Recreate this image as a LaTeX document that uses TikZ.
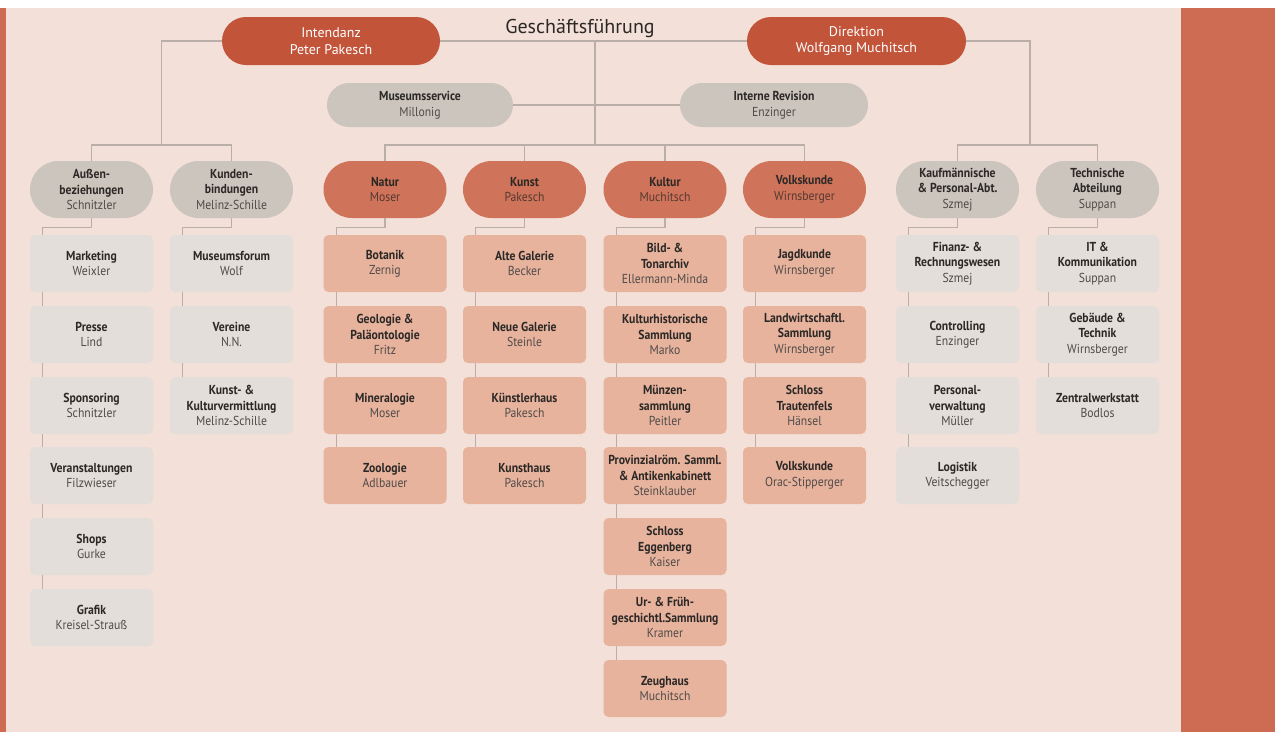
\documentclass[tikz,border=0pt]{standalone}
\usepackage{fontspec}
\setmainfont{PT Sans}[FakeStretch=0.9]
\newfontfamily\titlefont{PT Sans}
\usetikzlibrary{calc}
\definecolor{bg}{HTML}{F3E0D8}
\definecolor{edgec}{HTML}{CD6C53}
\definecolor{topred}{HTML}{C2543A}
\definecolor{divpill}{HTML}{CF745A}
\definecolor{divbox}{HTML}{E7B39D}
\definecolor{greypill}{HTML}{CCC5BD}
\definecolor{greybox}{HTML}{E3DEDA}
\definecolor{conn}{HTML}{B9AEA8}
\definecolor{ttl}{HTML}{2B2826}
\definecolor{namec}{HTML}{4F4A48}
\definecolor{namedv}{HTML}{553830}
\newcommand{\ttxt}[1]{{\bfseries #1}}
\newcommand{\ntxt}[1]{{\color{namec}#1}}
\newcommand{\dtxt}[1]{{\color{namedv}#1}}
\tikzset{
 base/.style={inner sep=0pt, align=center, font=\fontsize{13}{15.5}\selectfont, text=ttl},
 toppill/.style={base, fill=topred, minimum width=218pt, minimum height=48pt, rounded corners=24pt, text=white, font=\titlefont\fontsize{14}{16.5}\selectfont},
 pill/.style={base, minimum width=123pt, minimum height=57pt, rounded corners=28.5pt},
 gpill/.style={pill, fill=greypill},
 dpill/.style={pill, fill=divpill},
 box/.style={base, minimum width=123pt, minimum height=57pt, rounded corners=5pt},
 gbox/.style={box, fill=greybox},
 dbox/.style={box, fill=divbox},
 svc/.style={base, fill=greypill, minimum height=44pt, rounded corners=22pt},
 link/.style={draw=conn, line width=1.3pt},
}
\begin{document}
\begin{tikzpicture}[x=1pt,y=-1pt]
\useasboundingbox (0,0) rectangle (1275,732);
\fill[white] (0,0) rectangle (1275,732);
\fill[bg] (0,8) rectangle (1181,732);
\fill[edgec] (0,8) rectangle (6,732);
\fill[edgec] (1181,8) rectangle (1275,732);

% top
\node[toppill] (intend) at (331,41) {Intendanz\\Peter Pakesch};
\node[toppill, minimum width=219pt] (direk) at (856.5,41) {Direktion\\Wolfgang Muchitsch};
\node[text=ttl, font=\titlefont\fontsize{20}{22}\selectfont, inner sep=0pt] (gft) at (580,28) {Geschäftsführung};
\node[svc, minimum width=186pt] (msvc) at (420,105) {\ttxt{Museumsservice}\\\ntxt{Millonig}};
\node[svc, minimum width=188pt] (irev) at (774,105) {\ttxt{Interne Revision}\\\ntxt{Enzinger}};

\coordinate (gtop) at (595,41);
\coordinate (mj) at (595,145);
\coordinate (lj) at (161.5,145);
\coordinate (rj) at (1030,145);

% group pills
\def\py{189.5}
\node[gpill] (aP) at (91.5,\py) {\ttxt{Außen-}\\\ttxt{beziehungen}\\\ntxt{Schnitzler}};
\node[gpill] (kP) at (231.5,\py) {\ttxt{Kunden-}\\\ttxt{bindungen}\\\ntxt{Melinz-Schille}};
\node[dpill] (nP) at (385,\py) {\ttxt{Natur}\\\dtxt{Moser}};
\node[dpill] (sP) at (524.5,\py) {\ttxt{Kunst}\\\dtxt{Pakesch}};
\node[dpill] (cP) at (665,\py) {\ttxt{Kultur}\\\dtxt{Muchitsch}};
\node[dpill] (vP) at (804.5,\py) {\ttxt{Volkskunde}\\\dtxt{Wirnsberger}};
\node[gpill] (fP) at (957.5,\py) {\ttxt{Kaufmännische}\\\ttxt{\& Personal-Abt.}\\\ntxt{Szmej}};
\node[gpill] (tP) at (1097.5,\py) {\ttxt{Technische}\\\ttxt{Abteilung}\\\ntxt{Suppan}};

% rows
\def\ra{263.5}\def\rb{334.5}\def\rc{405.5}\def\rd{475.5}\def\re{546.5}\def\rf{617.5}\def\rg{688.5}

\node[gbox] (a1) at (91.5,\ra) {\ttxt{Marketing}\\\ntxt{Weixler}};
\node[gbox] (a2) at (91.5,\rb) {\ttxt{Presse}\\\ntxt{Lind}};
\node[gbox] (a3) at (91.5,\rc) {\ttxt{Sponsoring}\\\ntxt{Schnitzler}};
\node[gbox] (a4) at (91.5,\rd) {\ttxt{Veranstaltungen}\\\ntxt{Filzwieser}};
\node[gbox] (a5) at (91.5,\re) {\ttxt{Shops}\\\ntxt{Gurke}};
\node[gbox] (a6) at (91.5,\rf) {\ttxt{Grafik}\\\ntxt{Kreisel-Strauß}};

\node[gbox] (k1) at (231.5,\ra) {\ttxt{Museumsforum}\\\ntxt{Wolf}};
\node[gbox] (k2) at (231.5,\rb) {\ttxt{Vereine}\\\ntxt{N.N.}};
\node[gbox] (k3) at (231.5,\rc) {\ttxt{Kunst- \&}\\\ttxt{Kulturvermittlung}\\\ntxt{Melinz-Schille}};

\node[dbox] (n1) at (385,\ra) {\ttxt{Botanik}\\\ntxt{Zernig}};
\node[dbox] (n2) at (385,\rb) {\ttxt{Geologie \&}\\\ttxt{Paläontologie}\\\ntxt{Fritz}};
\node[dbox] (n3) at (385,\rc) {\ttxt{Mineralogie}\\\ntxt{Moser}};
\node[dbox] (n4) at (385,\rd) {\ttxt{Zoologie}\\\ntxt{Adlbauer}};

\node[dbox] (s1) at (524.5,\ra) {\ttxt{Alte Galerie}\\\ntxt{Becker}};
\node[dbox] (s2) at (524.5,\rb) {\ttxt{Neue Galerie}\\\ntxt{Steinle}};
\node[dbox] (s3) at (524.5,\rc) {\ttxt{Künstlerhaus}\\\ntxt{Pakesch}};
\node[dbox] (s4) at (524.5,\rd) {\ttxt{Kunsthaus}\\\ntxt{Pakesch}};

\node[dbox] (c1) at (665,\ra) {\ttxt{Bild- \&}\\\ttxt{Tonarchiv}\\\ntxt{Ellermann-Minda}};
\node[dbox] (c2) at (665,\rb) {\ttxt{Kulturhistorische}\\\ttxt{Sammlung}\\\ntxt{Marko}};
\node[dbox] (c3) at (665,\rc) {\ttxt{Münzen-}\\\ttxt{sammlung}\\\ntxt{Peitler}};
\node[dbox] (c4) at (665,\rd) {\ttxt{Provinzialröm. Samml.}\\\ttxt{\& Antikenkabinett}\\\ntxt{Steinklauber}};
\node[dbox] (c5) at (665,\re) {\ttxt{Schloss}\\\ttxt{Eggenberg}\\\ntxt{Kaiser}};
\node[dbox] (c6) at (665,\rf) {\ttxt{Ur- \& Früh-}\\\ttxt{geschichtl.Sammlung}\\\ntxt{Kramer}};
\node[dbox] (c7) at (665,\rg) {\ttxt{Zeughaus}\\\ntxt{Muchitsch}};

\node[dbox] (v1) at (804.5,\ra) {\ttxt{Jagdkunde}\\\ntxt{Wirnsberger}};
\node[dbox] (v2) at (804.5,\rb) {\ttxt{Landwirtschaftl.}\\\ttxt{Sammlung}\\\ntxt{Wirnsberger}};
\node[dbox] (v3) at (804.5,\rc) {\ttxt{Schloss}\\\ttxt{Trautenfels}\\\ntxt{Hänsel}};
\node[dbox] (v4) at (804.5,\rd) {\ttxt{Volkskunde}\\\ntxt{Orac-Stipperger}};

\node[gbox] (f1) at (957.5,\ra) {\ttxt{Finanz- \&}\\\ttxt{Rechnungswesen}\\\ntxt{Szmej}};
\node[gbox] (f2) at (957.5,\rb) {\ttxt{Controlling}\\\ntxt{Enzinger}};
\node[gbox] (f3) at (957.5,\rc) {\ttxt{Personal-}\\\ttxt{verwaltung}\\\ntxt{Müller}};
\node[gbox] (f4) at (957.5,\rd) {\ttxt{Logistik}\\\ntxt{Veitschegger}};

\node[gbox] (t1) at (1097.5,\ra) {\ttxt{IT \&}\\\ttxt{Kommunikation}\\\ntxt{Suppan}};
\node[gbox] (t2) at (1097.5,\rb) {\ttxt{Gebäude \&}\\\ttxt{Technik}\\\ntxt{Wirnsberger}};
\node[gbox] (t3) at (1097.5,\rc) {\ttxt{Zentralwerkstatt}\\\ntxt{Bodlos}};

% top connectors
\draw[link] (intend.east) -- (direk.west);
\draw[link] (gtop) -- (mj);
\draw[link] (msvc.east) -- (irev.west);
\draw[link] (intend.west) -| (lj);
\draw[link] (aP.north) -- (aP.north |- lj) -- (kP.north |- lj) -- (kP.north);
\draw[link] (direk.east) -| (rj);
\draw[link] (fP.north) -- (fP.north |- rj) -- (tP.north |- rj) -- (tP.north);
\draw[link] (nP.north) -- (nP.north |- mj) -- (vP.north |- mj) -- (vP.north);
\draw[link] (sP.north) -- (sP.north |- mj);
\draw[link] (cP.north) -- (cP.north |- mj);

% column connectors
\foreach \c/\m in {a/5,k/2,n/3,s/3,c/6,v/3,f/3,t/2} {
  \draw[link] (\c P.south) -- ++(0,9) -| ([xshift=13pt]\c1.north west);
  \foreach \i in {1,...,\m} {
    \pgfmathtruncatemacro\j{\i+1}
    \draw[link] ([xshift=13pt]\c\i.south west) -- ([xshift=13pt]\c\j.north west);
  }
}
\end{tikzpicture}
\end{document}
